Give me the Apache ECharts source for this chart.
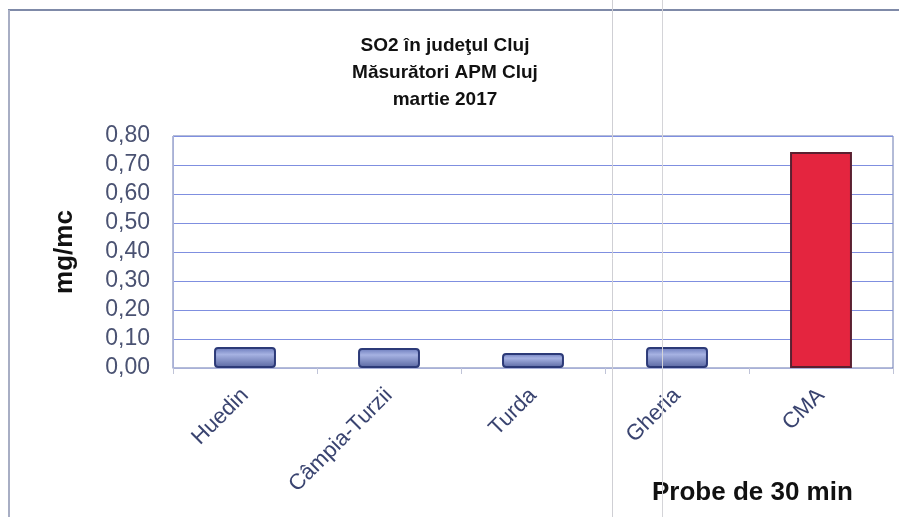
<!DOCTYPE html>
<html><head><meta charset="utf-8">
<script src="https://cdn.jsdelivr.net/npm/echarts@6/dist/echarts.min.js"></script>
<style>html,body{margin:0;padding:0;background:#fff}#c{width:899px;height:517px}</style>
</head><body><div id="c"></div>
<script>
const categories = ['Huedin', 'Câmpia-Turzii', 'Turda', 'Gheria', 'CMA'];
const values = [0.072, 0.069, 0.052, 0.072, 0.745];
const yTicks = [0, 0.1, 0.2, 0.3, 0.4, 0.5, 0.6, 0.7, 0.8];
const titleLines = ['SO2 în judeţul Cluj', 'Măsurători APM Cluj', 'martie 2017'];

const blueFill = new echarts.graphic.LinearGradient(0,0,0,1,[{offset:0,color:'#6676b8'},{offset:0.35,color:'#a6b2e2'},{offset:1,color:'#56649f'}]);
const redFill = '#e4253f';

const chart = echarts.init(document.getElementById('c'));
chart.setOption({
  animation:false,
  backgroundColor:'#fff',
  graphic:[
    {type:'line', shape:{x1:8,y1:10,x2:899,y2:10}, style:{stroke:'#7f8aa8',lineWidth:2}},
    {type:'line', shape:{x1:9,y1:10,x2:9,y2:517}, style:{stroke:'#a8aec4',lineWidth:2}},
    {type:'line', shape:{x1:612.5,y1:0,x2:612.5,y2:517}, style:{stroke:'#cfcfd4',lineWidth:1}, z:100},
    {type:'line', shape:{x1:662.5,y1:0,x2:662.5,y2:517}, style:{stroke:'#d4d4d8',lineWidth:1}, z:100},
    {type:'text', x:445, y:32, style:{text:titleLines.join('\n'), font:'bold 19px "Liberation Sans", Arial', fill:'#111', align:'center', lineHeight:27}},
    {type:'text', x:652, y:480, style:{text:'Probe de 30 min', font:'bold 26px "Liberation Sans", Arial', fill:'#111'}}
  ],
  grid:{left:173, right:6, top:136, bottom:149, containLabel:false, show:true, borderColor:'#6878b0', borderWidth:1},
  xAxis:{type:'category', data:categories,
    axisLine:{show:true, lineStyle:{color:'#a8b0d8'}},
    axisTick:{show:true, alignWithLabel:false, length:6, lineStyle:{color:'#c0c4d8'}},
    axisLabel:{rotate:45, interval:0, color:'#3a4470', fontSize:22, fontFamily:'"Liberation Sans", Arial', margin:24}},
  yAxis:{type:'value', min:0, max:0.8, interval:0.1,
    name:'mg/mc', nameLocation:'middle', nameGap:95, nameRotate:90,
    nameTextStyle:{fontSize:26, fontWeight:'bold', color:'#111', fontFamily:'"Liberation Sans", Arial'},
    axisLine:{show:true, lineStyle:{color:'#a8b0d8'}},
    axisTick:{show:false},
    axisLabel:{color:'#4a5272', fontSize:23, fontFamily:'"Liberation Sans", Arial', margin:23,
      formatter:v=>{const t=yTicks.find(x=>Math.abs(x-v)<1e-9); return (t===undefined?v:t).toFixed(2).replace('.',',');}},
    splitLine:{lineStyle:{color:'#7f8fe0', width:1}}},
  series:[{type:'bar', barWidth:'43%',
    data: values.map((v,i)=>({value:v, itemStyle:{color: i===4? redFill : blueFill, borderColor: i===4?'#5a2030':'#2c3a78', borderWidth:2, borderRadius: i===4?0:3}}))
  }]
});
</script></body></html>
